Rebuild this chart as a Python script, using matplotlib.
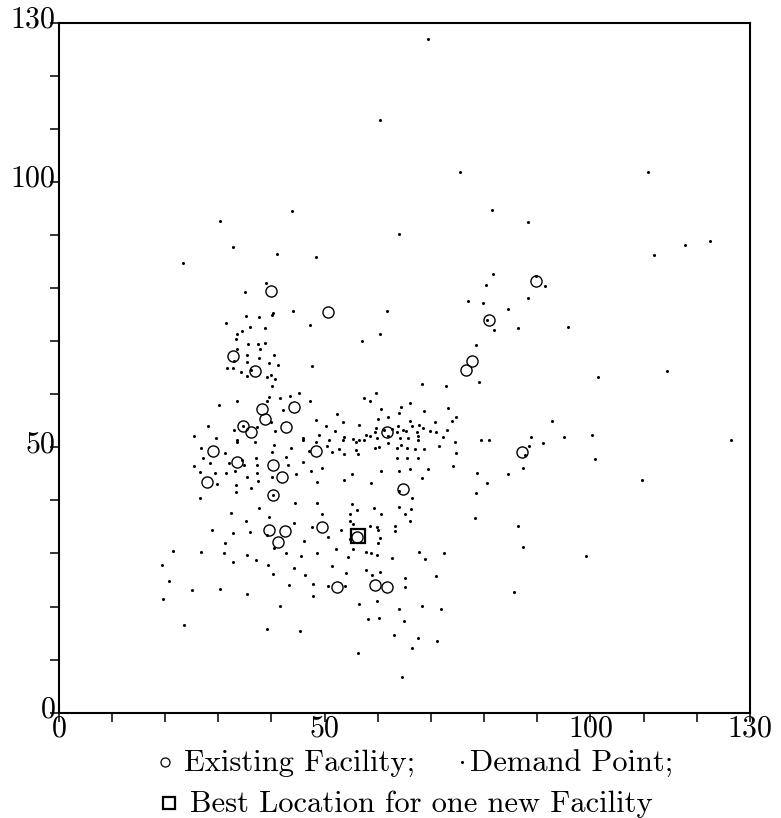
import numpy as np
import matplotlib
matplotlib.use("Agg")
import matplotlib.pyplot as plt
import matplotlib.transforms as mtransforms
from matplotlib.lines import Line2D

plt.rcParams['font.family'] = 'cmr10'
plt.rcParams['mathtext.fontset'] = 'cm'
plt.rcParams['axes.formatter.use_mathtext'] = True

# existing facilities (circles)
existing = np.array([
    (39.9, 79.4), (50.7, 75.5), (89.8, 81.3), (80.9, 74.0), (32.7, 67.2),
    (36.9, 64.4), (77.7, 66.3), (76.6, 64.6), (38.2, 57.3), (44.3, 57.6),
    (38.7, 55.3), (34.7, 54.1), (36.2, 52.8), (42.8, 53.8), (29.1, 49.4),
    (33.5, 47.3), (40.3, 46.6), (41.9, 44.5), (48.4, 49.4), (27.8, 43.4),
    (40.3, 41.1), (39.5, 34.5), (42.6, 34.3), (41.3, 32.2), (49.6, 35.0),
    (61.8, 52.8), (64.7, 42.2), (87.2, 49.1), (52.3, 23.7), (59.5, 24.1),
    (61.7, 23.7), (56.0, 33.2),
])

# best location for the new facility (square)
best_x = [56.2]
best_y = [33.3]

# demand points
demand = np.array([
    # top
    (69.5, 127.0), (60.4, 111.7), (75.4, 101.9), (43.9, 94.6), (30.4, 92.7),
    (63.9, 90.2), (32.8, 87.8), (41.1, 86.5), (48.3, 85.9), (23.4, 84.8),
    # upper left cluster
    (38.9, 81.0), (35.1, 79.3), (40.3, 75.4), (40.1, 75.0), (44.0, 75.6),
    (35.2, 74.8), (37.7, 74.6), (31.5, 73.5), (47.3, 73.1), (36.0, 72.7),
    (38.7, 72.5), (34.5, 72.0), (33.6, 71.4), (33.3, 70.4), (35.6, 69.5),
    (37.5, 69.5), (38.7, 69.7), (33.6, 68.5), (37.8, 68.5), (35.5, 67.4),
    (40.4, 67.4), (37.7, 66.8), (35.5, 66.1), (32.9, 66.3), (39.6, 65.8),
    (41.3, 65.5), (47.6, 65.3), (31.7, 64.9), (32.7, 64.9), (34.3, 64.2),
    (36.2, 64.5), (35.5, 63.4), (39.1, 63.3), (40.0, 63.7), (40.6, 62.9),
    (40.1, 61.6), (39.6, 59.5), (39.2, 58.8), (41.7, 59.3), (43.4, 59.7),
    (45.1, 60.3), (47.3, 58.8), (30.2, 58.0), (33.6, 58.8), (42.1, 57.1),
    # middle left
    (28.1, 54.1), (34.6, 54.1), (32.9, 53.3), (37.2, 53.8), (39.9, 54.7),
    (40.7, 53.0), (48.3, 55.2), (25.4, 52.2), (29.5, 51.8), (33.5, 51.4),
    (33.5, 51.0), (37.0, 51.1), (46.0, 51.7), (46.0, 51.3), (48.3, 51.1),
    (26.8, 49.9), (31.3, 49.0), (40.5, 50.4), (40.1, 49.2), (43.6, 49.9),
    (47.1, 49.3), (49.0, 52.3), (27.2, 47.9), (28.5, 47.0), (32.0, 47.0),
    (34.5, 47.6), (34.8, 46.7), (37.1, 47.9), (37.2, 46.7), (42.7, 48.2),
    (43.1, 46.7), (46.0, 47.3), (25.5, 46.5), (26.6, 45.3), (29.3, 45.2),
    (31.5, 45.2), (33.2, 45.5), (35.4, 44.4), (37.2, 45.2), (37.5, 43.6),
    (40.2, 44.5), (44.6, 44.9), (47.5, 45.5), (48.5, 43.5), (29.8, 43.1),
    (33.4, 42.9), (33.4, 41.6), (36.1, 42.4), (26.5, 40.5), (40.3, 41.1),
    (44.5, 39.6), (48.5, 39.6), (32.4, 37.6), (37.6, 38.6), (35.3, 36.1),
    (39.6, 36.9), (44.3, 35.8), (47.6, 35.0), (28.8, 34.5), (32.7, 33.9),
    (36.0, 34.1), (39.1, 33.4), (46.1, 32.4), (31.2, 31.9), (40.4, 31.0),
    # middle right band
    (60.0, 55.3), (61.9, 55.7), (66.0, 55.0), (67.7, 54.2), (68.5, 53.7),
    (70.8, 54.8), (74.0, 55.0), (74.7, 55.8), (50.2, 54.1), (53.5, 54.8),
    (56.4, 54.2), (52.0, 53.1), (59.6, 53.7), (59.5, 52.9), (57.8, 52.3),
    (58.6, 52.1), (61.2, 53.3), (61.9, 52.2), (63.8, 54.0), (62.6, 53.5),
    (64.7, 53.3), (65.4, 53.0), (66.5, 54.0), (67.4, 52.9), (67.5, 52.2),
    (69.9, 53.0), (71.0, 52.9), (73.1, 53.3), (72.2, 51.9), (63.6, 52.8),
    (53.7, 51.9), (53.5, 51.3), (50.9, 51.3), (55.4, 51.5), (55.9, 51.1),
    (56.4, 51.3), (57.5, 51.3), (59.8, 51.7), (64.2, 51.8), (65.6, 51.8),
    (67.5, 51.3), (74.5, 51.1), (79.4, 51.3), (81.0, 51.3), (50.5, 50.3),
    (52.7, 49.7), (51.4, 49.2), (53.7, 48.7), (55.9, 49.5), (56.2, 48.7),
    (59.5, 49.8), (60.3, 50.1), (62.0, 50.9), (64.3, 50.4), (63.6, 49.8),
    (65.5, 49.8), (67.0, 49.6), (68.7, 49.7), (71.6, 50.3), (74.7, 49.0),
    (63.6, 47.9), (65.5, 48.0), (67.5, 48.0), (49.6, 46.2), (55.2, 45.0),
    (60.6, 45.5), (64.0, 45.5), (66.0, 46.0), (69.5, 46.0), (74.2, 46.5),
    (78.6, 45.2), (80.5, 43.3), (53.7, 43.9), (58.7, 43.3), (68.3, 44.3),
    (78.5, 41.4), (64.0, 41.7), (66.4, 40.4), (55.2, 39.3), (59.3, 38.6),
    (63.9, 38.8), (66.3, 38.4), (49.5, 37.4), (54.7, 37.5), (56.0, 38.2),
    (60.7, 37.5), (65.1, 37.5), (55.4, 35.6), (54.7, 36.1), (66.1, 36.1),
    (58.6, 35.2), (59.9, 35.0), (60.1, 34.4), (63.2, 35.2), (63.2, 34.3),
    (78.2, 36.6), (53.0, 34.5), (50.7, 33.1), (54.8, 32.7), (60.4, 33.0),
    (60.0, 31.9), (52.2, 30.8), (55.4, 30.8),
    # upper middle / right arm
    (80.3, 80.5), (77.0, 77.6), (79.8, 77.2), (61.8, 75.7), (80.5, 73.9),
    (60.4, 71.4), (57.0, 70.1), (78.4, 69.3), (79.1, 62.4), (68.3, 62.0),
    (72.8, 61.5), (59.7, 60.3), (57.4, 59.3), (58.5, 58.8), (60.6, 57.3),
    (64.3, 57.6), (64.0, 56.4), (66.0, 58.4), (68.6, 56.9), (73.2, 57.5),
    (52.4, 56.3),
    # far right
    (110.8, 101.9), (81.5, 94.8), (88.2, 92.5), (112.0, 86.2), (117.8, 88.1),
    (122.4, 88.9), (81.6, 82.7), (89.7, 82.3), (91.5, 80.4), (88.3, 78.2),
    (84.5, 76.1), (81.9, 72.1), (86.4, 72.5), (95.8, 72.7), (114.4, 64.4),
    (101.4, 63.2), (92.7, 55.0), (88.9, 51.9), (88.5, 50.3), (91.1, 50.9),
    (95.0, 52.0), (100.2, 52.4), (100.9, 47.8), (126.5, 51.4), (87.7, 48.5),
    (87.3, 46.1), (84.5, 45.0), (109.6, 43.9), (86.3, 35.2), (87.3, 31.3),
    (99.1, 29.6), (85.6, 22.8),
    # lower left
    (21.4, 30.5), (26.8, 30.3), (31.1, 30.1), (35.5, 29.7), (42.8, 30.1),
    (45.5, 29.6), (48.6, 30.1), (19.4, 27.9), (32.7, 28.4), (37.1, 28.8),
    (39.4, 27.9), (44.3, 27.3), (46.4, 26.0), (40.3, 26.1), (20.7, 24.9),
    (25.0, 23.1), (30.3, 23.3), (35.4, 22.4), (43.3, 24.1), (47.9, 24.3),
    (47.9, 21.9), (19.7, 21.4), (41.7, 20.1), (23.6, 16.6), (39.1, 15.8),
    (45.4, 15.4),
    # lower middle
    (57.7, 30.3), (58.7, 30.1), (59.9, 29.7), (62.6, 29.2), (67.8, 30.3),
    (68.9, 28.9), (72.5, 30.1), (54.4, 29.4), (51.4, 27.7), (54.0, 26.3),
    (57.7, 26.9), (59.0, 26.0), (60.5, 26.5), (65.2, 25.4), (71.0, 25.8),
    (50.6, 23.9), (53.9, 23.9), (65.2, 23.7), (56.5, 20.5), (59.9, 21.0),
    (64.0, 19.5), (68.4, 20.1), (71.9, 19.5), (58.1, 17.6), (60.2, 17.8),
    (65.0, 17.3), (63.1, 14.6), (67.5, 14.1), (71.2, 13.6), (66.4, 12.2),
    (56.2, 11.2), (64.6, 6.7),
])

major_ticks = [0, 50, 100, 130]
minor_ticks = [10, 20, 30, 40, 60, 70, 80, 90, 110, 120]

fig = plt.figure(figsize=(7.81, 8.18), dpi=100)
ax = fig.add_axes([0.0752, 0.1287, 0.8851, 0.8435])

ax.plot(demand[:, 0], demand[:, 1], 'o', ms=2.2, color='black', mew=0)
ax.plot(existing[:, 0], existing[:, 1], 'o', ms=8, mfc='none', mec='black', mew=1.0)
ax.plot(best_x, best_y, 's', ms=9.5, mfc='none', mec='black', mew=1.6)

ax.set_xlim(0, 130)
ax.set_ylim(0, 130)
ax.set_xticks(major_ticks)
ax.set_yticks(major_ticks)
ax.set_xticks(minor_ticks, minor=True)
ax.set_yticks(minor_ticks, minor=True)
ax.tick_params(which='both', direction='out', length=6.5, width=1.1,
               top=False, right=False, labelsize=21.5)
ax.tick_params(axis='x', pad=-4.8)
ax.tick_params(axis='y', pad=-4.5)
for s in ax.spines.values():
    s.set_linewidth(1.5)

# y labels sit a little above their ticks in the original
shift = mtransforms.ScaledTranslation(0, 0.06, fig.dpi_scale_trans)
for lab in ax.get_yticklabels():
    lab.set_transform(lab.get_transform() + shift)

# legend below the plot
T = fig.transFigure
fig.add_artist(Line2D([0.2115], [0.0685], marker='o', ms=6.5, mfc='none',
                      mec='black', mew=0.9, transform=T))
fig.text(0.236, 0.0575, 'Existing Facility;', fontsize=22, va='baseline')
fig.add_artist(Line2D([0.592], [0.0685], marker='o', ms=2.2, color='black',
                      mew=0, transform=T))
fig.text(0.602, 0.0575, 'Demand Point;', fontsize=22, va='baseline')
fig.add_artist(Line2D([0.2165], [0.0183], marker='s', ms=8.5, mfc='none',
                      mec='black', mew=1.6, transform=T))
fig.text(0.243, 0.0073, 'Best Location for one new Facility', fontsize=22,
         va='baseline')

fig.savefig('out.png', dpi=100)
